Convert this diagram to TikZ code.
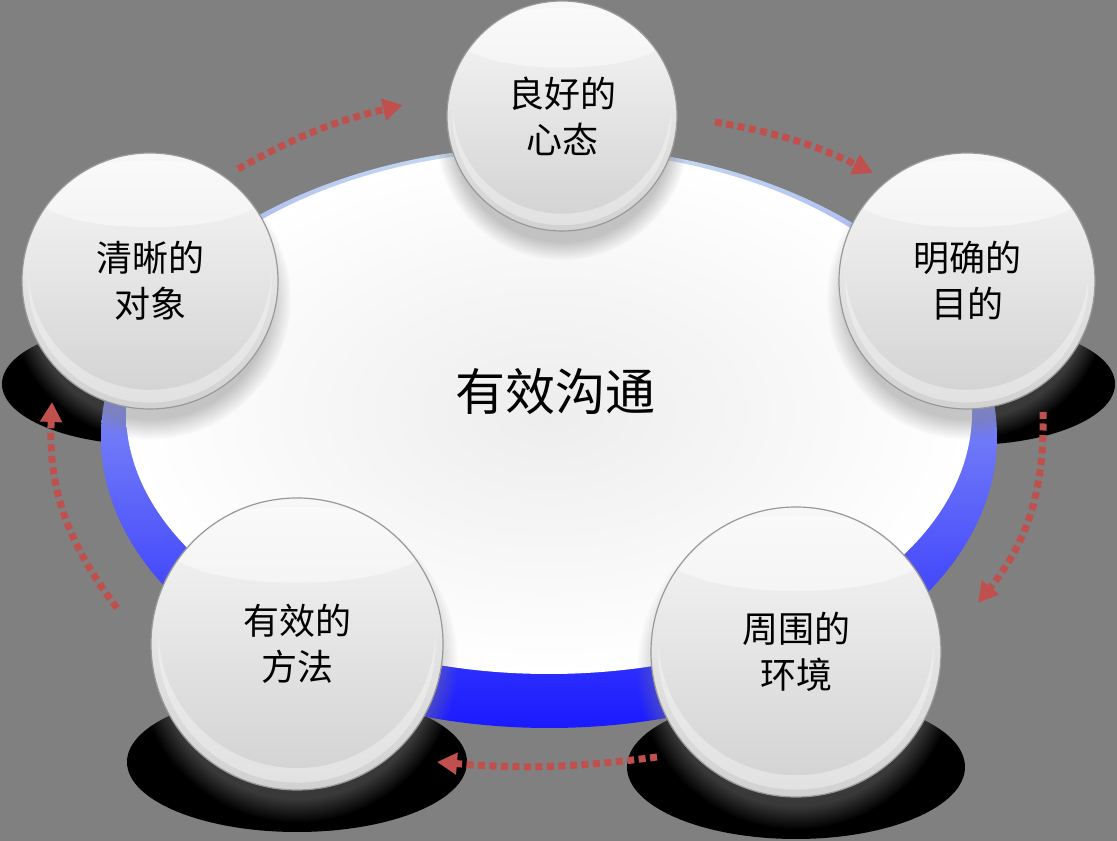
\documentclass[tikz,border=0pt]{standalone}
\usepackage{fontspec}
\newfontfamily\cjk{Noto Sans CJK SC}
\usetikzlibrary{arrows.meta,shadows}

\definecolor{bggray}{RGB}{128,128,128}
\definecolor{rimtop}{RGB}{198,217,241}
\definecolor{rimmid}{RGB}{128,144,255}
\definecolor{rimbot}{RGB}{26,26,255}
\definecolor{arrowred}{RGB}{192,80,77}

\tikzstyle{ball} = [circle, draw=black!40, line width=1.2pt, inner sep=0pt, align=center, top color=black!3, bottom color=black!18, font=\cjk\fontsize{36}{46}\selectfont, circular drop shadow={shadow xshift=0pt, shadow yshift=-16pt, opacity=0.45}]
\tikzstyle{gloss} = [fill=white, opacity=0.45]
\tikzstyle{rim} = [fill=white, opacity=0.35]
\tikzstyle{flat} = [fill=black]
\tikzstyle{dotline} = [draw=arrowred, line width=7pt, dash pattern=on 7pt off 4.5pt, -{Triangle[length=20pt, width=21pt]}]

\begin{document}
\begin{tikzpicture}[x=1pt, y=1pt]
	\useasboundingbox[fill=bggray] (0,0) rectangle (1117,841);

	% Shadows under the balls
	\fill[flat] (150,457) ellipse [x radius=148, y radius=61];
	\fill[flat] (967,457) ellipse [x radius=148, y radius=61];
	\fill[flat] (297,79) ellipse [x radius=170, y radius=70];
	\fill[flat] (796,74) ellipse [x radius=169, y radius=72];

	% Platform
	\shade[top color=rimtop, middle color=rimmid, bottom color=rimbot] (549,404) ellipse [x radius=448, y radius=291];
	\shade[inner color=black!7, outer color=white] (549,429) ellipse [x radius=423, y radius=262];
	\node[font=\cjk\fontsize{50}{60}\selectfont] (core) at (555,449) {有效沟通};

	% Balls
	\node[ball, minimum size=230pt] (xintai) at (562,725) {良好的\\心态};
	\node[ball, minimum size=256pt] (mudi) at (967,560) {明确的\\目的};
	\node[ball, minimum size=290pt] (huanjing) at (796,189) {周围的\\环境};
	\node[ball, minimum size=292pt] (fangfa) at (297,197) {有效的\\方法};
	\node[ball, minimum size=256pt] (duixiang) at (150,560) {清晰的\\对象};
	\foreach \b/\r in {xintai/115, mudi/128, huanjing/145, fangfa/146, duixiang/128} {
		\begin{scope}
			\clip (\b.center) circle (\r-1.5);
			\fill[gloss] ([yshift=0.68*\r pt]\b.center) ellipse [x radius=0.9*\r, y radius=0.26*\r];
		\end{scope}
		\begin{scope}
			\clip (\b.center) circle (0.95*\r);
			\fill[rim, even odd rule] (\b.center) circle (0.95*\r) ([yshift=0.1*\r pt]\b.center) circle (0.95*\r);
		\end{scope}
	}

	% Arrows
	\coordinate (a1s) at (238,672); \coordinate (a1e) at (403,736);
	\coordinate (a2s) at (715,719); \coordinate (a2e) at (873,668);
	\coordinate (a3s) at (1043,429); \coordinate (a3e) at (978,238);
	\coordinate (a4s) at (657,84); \coordinate (a4e) at (437,79);
	\coordinate (a5s) at (117,233); \coordinate (a5e) at (52,439);
	\draw[dotline] (a1s) to[bend left=8] (a1e);
	\draw[dotline] (a2s) to[bend left=8] (a2e);
	\draw[dotline] (a3s) to[bend left=20] (a3e);
	\draw[dotline] (a4s) to[bend left=6] (a4e);
	\draw[dotline] (a5s) to[bend left=20] (a5e);

\end{tikzpicture}
\end{document}
